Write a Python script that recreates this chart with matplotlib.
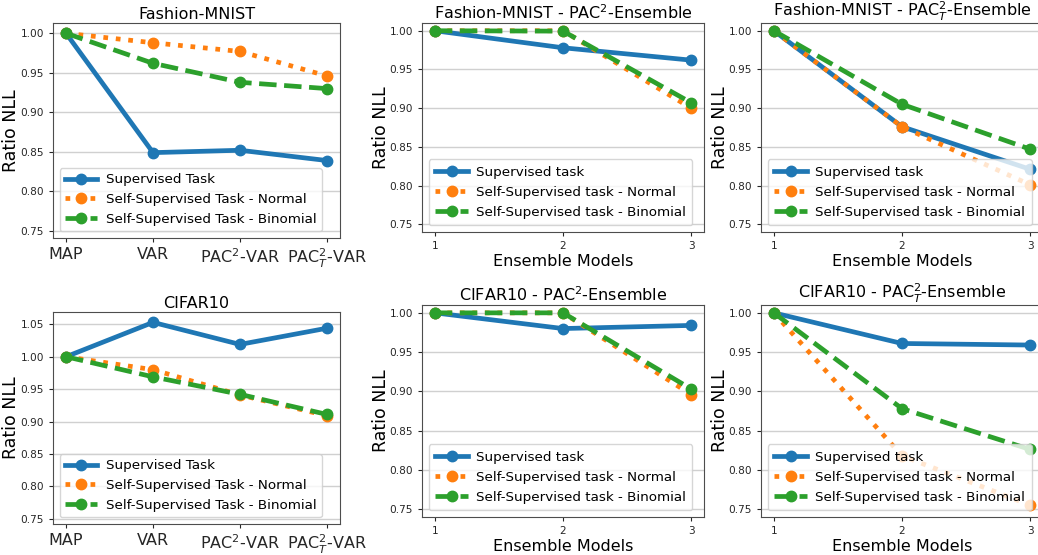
import matplotlib
matplotlib.use("Agg")
import matplotlib.pyplot as plt

# left column: methods
methods = ["MAP", "VAR", r"PAC$^2$-VAR", r"PAC$_T^2$-VAR"]
fm_sup = [1.000, 0.849, 0.852, 0.839]
fm_norm = [1.000, 0.988, 0.977, 0.946]
fm_bin = [1.000, 0.962, 0.938, 0.930]
cf_sup = [1.000, 1.053, 1.019, 1.044]
cf_norm = [1.000, 0.980, 0.941, 0.909]
cf_bin = [1.000, 0.969, 0.942, 0.911]

# ensembles
n_models = [1, 2, 3]
fm_pac2_sup = [1.000, 0.978, 0.962]
fm_pac2_norm = [1.000, 1.000, 0.900]
fm_pac2_bin = [1.000, 0.9995, 0.907]
fm_pact_sup = [1.000, 0.876, 0.821]
fm_pact_norm = [1.000, 0.876, 0.801]
fm_pact_bin = [1.000, 0.905, 0.847]
cf_pac2_sup = [1.000, 0.980, 0.984]
cf_pac2_norm = [1.000, 1.000, 0.896]
cf_pac2_bin = [1.000, 1.000, 0.903]
cf_pact_sup = [1.000, 0.961, 0.959]
cf_pact_norm = [1.000, 0.818, 0.755]
cf_pact_bin = [1.000, 0.878, 0.826]

W, H = 1038, 555


def box(l, t, r, b):
    return [l / W, (H - b) / H, (r - l) / W, (b - t) / H]


def style(ax):
    ax.grid(axis="y", color="#d0d0d0", lw=1)
    ax.set_axisbelow(True)
    for s in ax.spines.values():
        s.set_color("0.3")
    ax.tick_params(labelsize=7.6, colors="0.15", length=3)


def draw(ax, x, sup, norm, binom, labels, title, ylim, bpad):
    ax.plot(x, sup, "-o", color="#1f77b4", lw=3.4, ms=7.5, label=labels[0])
    ax.plot(x, norm, ":o", color="#ff7f0e", lw=3.4, ms=7.5, label=labels[1])
    ax.plot(x, binom, "--o", color="#2ca02c", lw=3.4, ms=7.5, label=labels[2])
    ax.set_ylim(*ylim)
    ax.set_ylabel("Ratio NLL", fontsize=12.5)
    ax.yaxis.set_label_coords(-0.115, 0.5)
    ax.set_title(title, fontsize=11.5, pad=3)
    style(ax)
    ax.legend(loc="lower left", fontsize=9.7, handlelength=2.4,
              handletextpad=0.6, borderpad=bpad, borderaxespad=0.5,
              labelspacing=0.5)


fig = plt.figure(figsize=(W / 100, H / 100), dpi=100)

lab_left = ["Supervised Task", "Self-Supervised Task - Normal",
            "Self-Supervised Task - Binomial"]
lab_right = ["Supervised task", "Self-Supervised task - Normal",
             "Self-Supervised task - Binomial"]

xi = list(range(len(methods)))

ax1 = fig.add_axes(box(53, 23, 340, 238))
draw(ax1, xi, fm_sup, fm_norm, fm_bin, lab_left, "Fashion-MNIST",
     (0.741, 1.013), 0.4)
ax1.set_xticks(xi)
ax1.set_xticklabels(methods, fontsize=11.5)

ax4 = fig.add_axes(box(53, 312, 340, 524))
draw(ax4, xi, cf_sup, cf_norm, cf_bin, lab_left, "CIFAR10",
     (0.742, 1.069), 0.4)
ax4.set_xticks(xi)
ax4.set_xticklabels(methods, fontsize=11.5)

panels = [
    (box(422, 23, 704, 232), fm_pac2_sup, fm_pac2_norm, fm_pac2_bin,
     r"Fashion-MNIST - PAC$^2$-Ensemble"),
    (box(761, 23, 1043, 232), fm_pact_sup, fm_pact_norm, fm_pact_bin,
     r"Fashion-MNIST - PAC$_T^2$-Ensemble"),
    (box(422, 305, 704, 517), cf_pac2_sup, cf_pac2_norm, cf_pac2_bin,
     r"CIFAR10 - PAC$^2$-Ensemble"),
    (box(761, 305, 1043, 517), cf_pact_sup, cf_pact_norm, cf_pact_bin,
     r"CIFAR10 - PAC$_T^2$-Ensemble"),
]
for pos, s, n, b, t in panels:
    ax = fig.add_axes(pos)
    draw(ax, n_models, s, n, b, lab_right, t, (0.740, 1.010), 0.5)
    ax.set_xticks(n_models)
    ax.set_xlabel("Ensemble Models", fontsize=11.5, labelpad=2)

fig.savefig("out.png", dpi=100)
